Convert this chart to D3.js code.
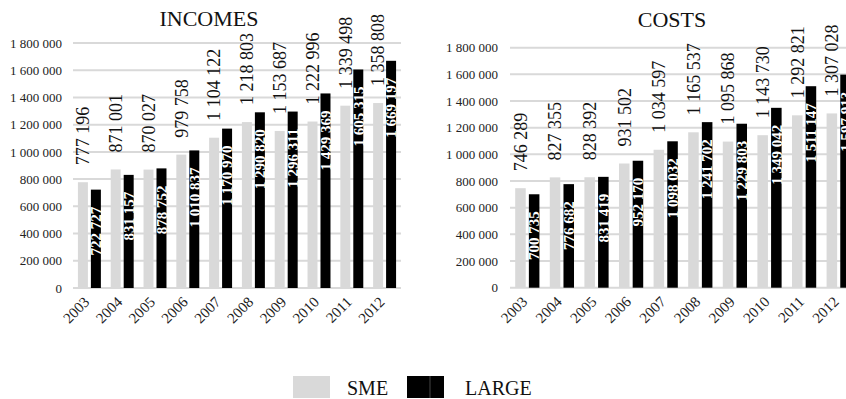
<!DOCTYPE html>
<html lang="en">
<head>
  <meta charset="UTF-8">
  <title>Incomes and costs</title>
  <script src="https://d3js.org/d3.v7.min.js"></script>
  <style>
    body { margin: 0; background: #fff; }
    svg { display: block; }
    svg text { font-family: "Liberation Serif", Tinos, "Times New Roman", Times, serif; }
    .grid line { stroke: #d9d9d9; stroke-width: 2; }
    .axis text { fill: #222; }
    .title { font-size: 22px; fill: #111; text-anchor: middle; }
    .lbl-out { font-size: 18px; fill: #111; }
    .lbl-in { font-size: 15px; font-weight: bold; fill: #fff; }
    .legend text { font-size: 20px; fill: #111; }
  </style>
</head>
<body>
<script>
  const years = ["2003","2004","2005","2006","2007","2008","2009","2010","2011","2012"];
  const seriesNames = ["SME", "LARGE"];
  const yTicks = [0, 200000, 400000, 600000, 800000, 1000000, 1200000, 1400000, 1600000, 1800000];

  const incomesSME   = [777196, 871001, 870027, 979758, 1104122, 1218803, 1153687, 1222996, 1339498, 1358808];
  const incomesLarge = [722727, 831157, 878752, 1010837, 1170970, 1290820, 1296311, 1429369, 1605315, 1669197];
  const costsSME     = [746289, 827355, 828392, 931502, 1034597, 1165537, 1095868, 1143730, 1292821, 1307028];
  const costsLarge   = [700735, 776682, 831419, 952170, 1098032, 1241702, 1229803, 1349042, 1511147, 1597913];

  const colors = { SME: "#d9d9d9", LARGE: "#000000" };
  const serif = '"Liberation Serif", Tinos, "Times New Roman", Times, serif';
  const fmt = d3.formatLocale({ decimal: ",", thousands: " ", grouping: [3], currency: ["", ""] }).format(",d");

  const width = 846, height = 399;
  const svg = d3.select("body").append("svg")
    .attr("width", width)
    .attr("height", height)
    .attr("font-family", serif);

  function drawPanel(cfg) {
    const x0 = d3.scaleBand()
      .domain(years)
      .range([cfg.left, cfg.right])
      .paddingInner(0.3)
      .paddingOuter(0.15);

    const x1 = d3.scaleBand()
      .domain(seriesNames)
      .range([0, x0.bandwidth()])
      .paddingInner(0.23);

    const y = d3.scaleLinear()
      .domain([0, 1800000])
      .range([cfg.bottom, cfg.top]);

    const g = svg.append("g");

    // gridlines
    g.append("g").attr("class", "grid")
      .selectAll("line")
      .data(yTicks)
      .join("line")
      .attr("x1", cfg.left)
      .attr("x2", cfg.right)
      .attr("y1", d => y(d))
      .attr("y2", d => y(d));

    // y axis labels
    const yAxis = g.append("g")
      .attr("class", "axis")
      .attr("transform", `translate(${cfg.left},0)`)
      .call(d3.axisLeft(y).tickValues(yTicks).tickFormat(fmt).tickSize(0).tickPadding(cfg.left - cfg.labelX));
    yAxis.attr("font-family", serif).attr("font-size", 13);
    yAxis.select(".domain").remove();

    // x axis labels
    const xAxis = g.append("g")
      .attr("class", "axis")
      .attr("transform", `translate(0,${cfg.bottom})`)
      .call(d3.axisBottom(x0).tickSize(0).tickPadding(0));
    xAxis.attr("font-family", serif).attr("font-size", 15);
    xAxis.select(".domain").remove();
    xAxis.selectAll("text")
      .attr("text-anchor", "end")
      .attr("dy", null)
      .attr("y", 0)
      .attr("transform", "translate(1,15) rotate(-45)");

    const rows = years.map((yr, i) => ({ year: yr, SME: cfg.sme[i], LARGE: cfg.large[i] }));

    const groups = g.selectAll(".yr")
      .data(rows)
      .join("g")
      .attr("class", "yr")
      .attr("transform", d => `translate(${x0(d.year)},0)`);

    groups.selectAll("rect")
      .data(d => seriesNames.map(k => ({ key: k, value: d[k] })))
      .join("rect")
      .attr("x", d => x1(d.key))
      .attr("width", x1.bandwidth())
      .attr("y", d => y(d.value))
      .attr("height", d => y(0) - y(d.value))
      .attr("fill", d => colors[d.key]);

    // SME labels, outside end
    groups.append("text")
      .attr("class", "lbl-out")
      .attr("text-anchor", "start")
      .attr("dy", "0.35em")
      .attr("transform", d => `translate(${x1("SME") + x1.bandwidth() / 2},${y(d.SME) - 17}) rotate(-90)`)
      .text(d => fmt(d.SME));

    // LARGE labels, inside end
    groups.append("text")
      .attr("class", "lbl-in")
      .attr("text-anchor", "end")
      .attr("dy", "0.35em")
      .attr("transform", d => `translate(${x1("LARGE") + x1.bandwidth() / 2},${y(d.LARGE) + 17}) rotate(-90)`)
      .text(d => fmt(d.LARGE));

    svg.append("text")
      .attr("class", "title")
      .attr("x", cfg.titleX)
      .attr("y", cfg.titleY)
      .text(cfg.title);
  }

  drawPanel({ title: "INCOMES", titleX: 209, titleY: 26, left: 73, right: 401, top: 43, bottom: 288, labelX: 62, sme: incomesSME, large: incomesLarge });
  drawPanel({ title: "COSTS", titleX: 672, titleY: 27, left: 510, right: 856, top: 47.7, bottom: 287.7, labelX: 498, sme: costsSME, large: costsLarge });

  // legend
  const legend = svg.append("g").attr("class", "legend");
  const legendItems = [
    { key: "SME", x: 293, tx: 347 },
    { key: "LARGE", x: 407, tx: 465 }
  ];
  legend.selectAll("rect")
    .data(legendItems)
    .join("rect")
    .attr("x", d => d.x)
    .attr("y", 376)
    .attr("width", 37)
    .attr("height", 22)
    .attr("fill", d => colors[d.key]);
  // the black swatch shows a faint split in the middle
  legend.append("line")
    .attr("x1", 407 + 23).attr("x2", 407 + 23)
    .attr("y1", 376).attr("y2", 398)
    .attr("stroke", "#555").attr("stroke-width", 0.8);
  legend.selectAll("text")
    .data(legendItems)
    .join("text")
    .attr("x", d => d.tx)
    .attr("y", 395)
    .text(d => d.key);
</script>
</body>
</html>
